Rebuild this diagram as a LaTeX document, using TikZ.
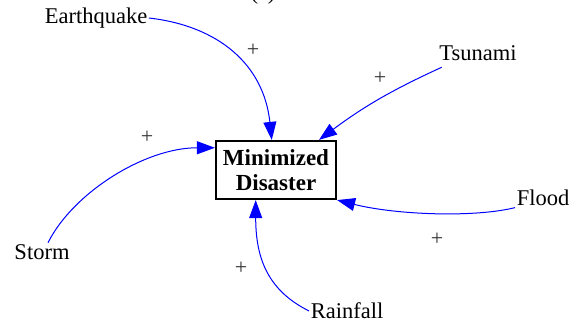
\documentclass[tikz,border=0pt]{standalone}
\usepackage{fontspec}
\setmainfont{Liberation Serif}
\usetikzlibrary{arrows.meta,positioning}

\tikzset{
    factor/.style={font=\fontsize{22.5}{24}\selectfont, inner sep=1.5pt},
    target/.style={draw=black, line width=2.2pt, fill=white, align=center,
                   minimum width=120pt, minimum height=58pt, inner sep=2pt,
                   font=\fontsize{23}{25}\selectfont\bfseries},
    polarity/.style={font=\fontsize{22}{22}\selectfont, text=black!80},
    link/.style={draw=blue, line width=1pt,
                 -{Triangle[length=18pt,width=13pt]}}
}

\begin{document}
\begin{tikzpicture}[x=1pt,y=1pt]
        \useasboundingbox (0,0) rectangle (578,325);
        \clip (0,0) rectangle (578,325);
        \node[factor] at (263,331) {(a)};
        % the box that all factors feed into
        \node[target] (dis) at (276,155) {Minimized\\Disaster};
        % factors
        \node[factor] (quake) at (96,307) {Earthquake};
        \node[factor] (wave)  at (478,272) {Tsunami};
        \node[factor] (storm) at (42,73)   {Storm};
        \node[factor] (flood) at (543,127) {Flood};
        \node[factor] (rain)  at (347,14)  {Rainfall};
        % links
        \draw[link] (quake.east) .. controls +(70,-8) and +(-8,75) .. (dis.98);
        \draw[link] ([xshift=4pt,yshift=-5pt]wave.south west) to[bend right=6] (dis.35);
        \draw[link] ([xshift=6pt]storm.north) .. controls +(25,50) and +(-70,0) .. (dis.160);
        \draw[link] (flood.south west) .. controls +(-40,-10) and +(60,-15) .. (dis.south east);
        \draw[link] (rain.west) .. controls +(-40,20) and +(0,-60) .. (dis.-124);
        % signs
        \node[polarity] at (253,275) {+};
        \node[polarity] at (380,247) {+};
        \node[polarity] at (147,188) {+};
        \node[polarity] at (437,86)  {+};
        \node[polarity] at (241,57)  {+};
    \end{tikzpicture}
\end{document}
